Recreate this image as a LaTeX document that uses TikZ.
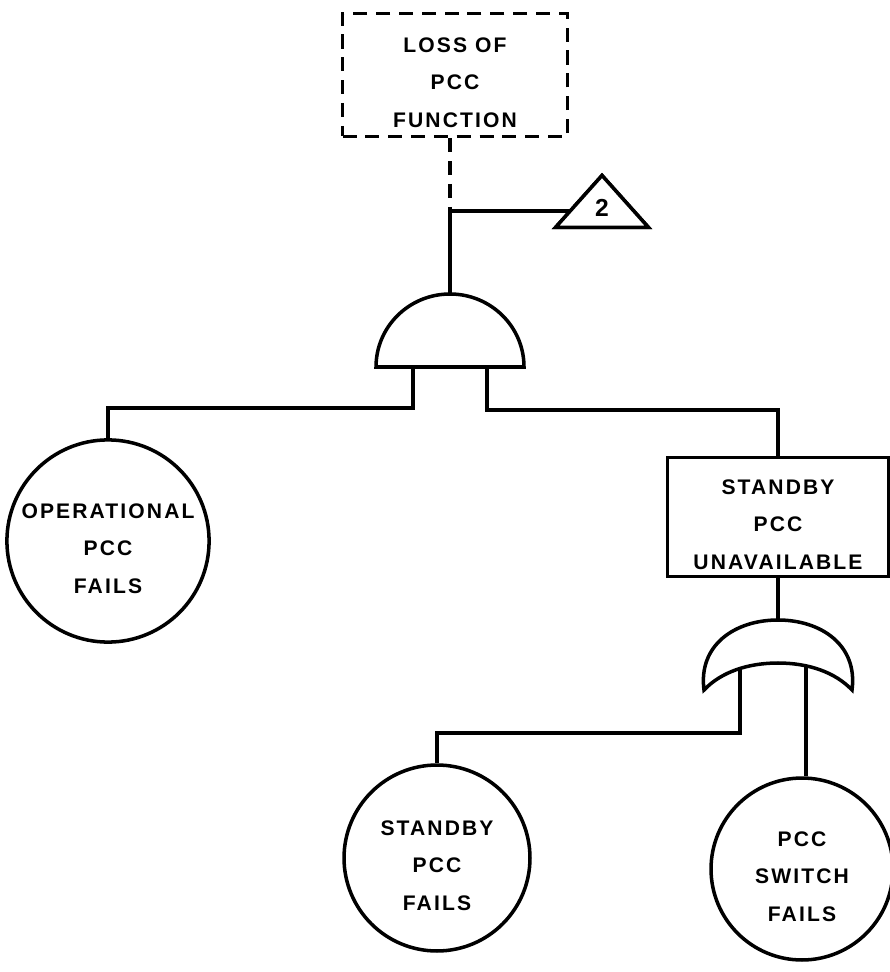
\documentclass[tikz,border=0pt]{standalone}
\usepackage{fontspec}
\newfontfamily\hand[LetterSpace=10]{Liberation Sans}
\usetikzlibrary{shapes.geometric}

\begin{document}
\begin{tikzpicture}[
    x=0.02cm, y=0.02cm,
    line width=2pt,
    txt/.style={align=center, font=\hand\bfseries\fontsize{12}{21.5}\selectfont, text height=60pt, text depth=0pt},
    event/.style={rectangle, draw, txt, inner sep=0pt},
    basic/.style={circle, draw, txt, inner sep=0pt},
    xfer/.style={isosceles triangle, isosceles triangle stretches, shape border rotate=90, draw, inner sep=0pt, minimum width=1.86cm, minimum height=1.04cm, font=\hand\bfseries\fontsize{14}{14}\selectfont},
    dashline/.style={dash pattern=on 8pt off 5pt}
]
\useasboundingbox (0,0) rectangle (889,-972);

% events
\node[event, dashline, minimum width=4.5cm, minimum height=2.46cm] (top) at (455,-75) {LOSS OF\\PCC\\FUNCTION};
\node[xfer] (tri) at (602,-208) {2};
\node[event, minimum width=4.42cm, minimum height=2.38cm] (sb) at (778,-517) {STANDBY\\PCC\\UNAVAILABLE};
\node[basic, minimum size=3.92cm] (op) at (108,-541) {OPERATIONAL\\PCC\\FAILS};
\node[basic, minimum size=3.72cm] (sbf) at (437,-858) {STANDBY\\PCC\\FAILS};
\node[basic, minimum size=3.64cm] (psw) at (802,-869) {PCC\\SWITCH\\FAILS};

% gate points
\coordinate (tee) at (450,-211);
\coordinate (and-out) at (450,-294);
\coordinate (and-a) at (413,-367);
\coordinate (and-b) at (487,-367);
\coordinate (or-out) at (778,-620);
\coordinate (or-a) at (740,-660);
\coordinate (or-b) at (806,-665);

% connectors
\draw[dashline] (top.south -| tee) -- (tee);
\draw (tee) -- (tee -| tri.center);
\draw (tee) -- (and-out);
\draw (and-a) -- ++(0,-41) -| (op);
\draw (and-b) -- ++(0,-43) -| (sb);
\draw (sb.south) -- (or-out);
\draw (or-a) -- ++(0,-73) -| (sbf);
\draw (or-b) -- (or-b |- psw.north);

% transfer triangle over the tee line
\node[xfer, fill=white] at (tri) {2};

% AND gate
\draw[fill=white] (376,-367) arc[start angle=180, end angle=0, x radius=74, y radius=73] -- cycle;
% OR gate
\draw[fill=white] (704,-690) .. controls (698,-645) and (735,-620) .. (778,-620)
    .. controls (821,-620) and (858,-645) .. (852,-690)
    .. controls (835,-672) and (808,-663) .. (778,-663)
    .. controls (748,-663) and (721,-672) .. (704,-690) -- cycle;
\end{tikzpicture}
\end{document}
